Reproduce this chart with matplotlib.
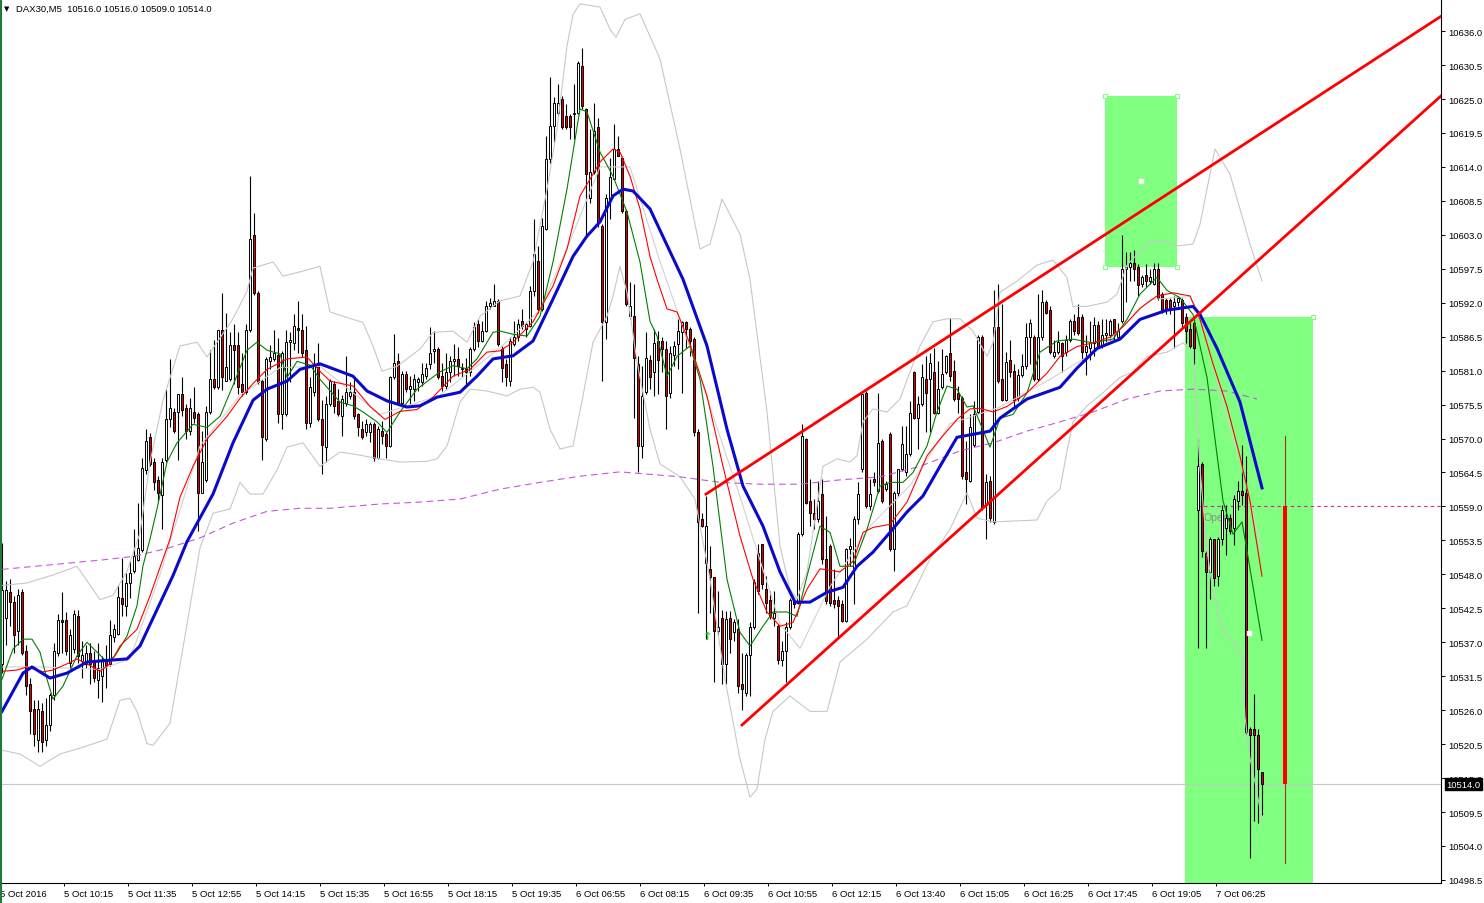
import numpy as np
import matplotlib
matplotlib.use("Agg")
import matplotlib.pyplot as plt
from matplotlib.patches import Rectangle
from matplotlib.lines import Line2D

plt.rcParams['font.family'] = ['Liberation Sans', 'DejaVu Sans']

symbol = 'DAX30,M5'

# 5 minute candles, 5 Oct 2016 09:00 -> 7 Oct 2016
opens = [
    10533.4, 10540.9, 10545.1, 10543.5, 10538.8, 10545.1, 10535.6, 10530.3, 10526.2, 10521.1,
    10525.8, 10521.1, 10523.6, 10528.4, 10535.3, 10540.6, 10540.6, 10533.7, 10535.9, 10541.3,
    10534.0, 10533.4, 10535.3, 10534.0, 10530.9, 10531.5, 10534.3, 10533.4, 10537.8, 10538.4,
    10544.1, 10542.8, 10546.6, 10548.5, 10550.4, 10552.0, 10564.9, 10570.3, 10566.2, 10563.3,
    10560.8, 10566.5, 10573.1, 10574.3, 10574.3, 10577.2, 10575.0, 10571.2, 10574.3, 10574.0,
    10561.1, 10563.3, 10574.3, 10579.7, 10578.4, 10587.6, 10579.4, 10579.7, 10585.1, 10585.1,
    10578.8, 10577.5, 10587.6, 10603.0, 10593.6, 10579.4, 10569.9, 10582.5, 10582.9, 10583.5,
    10574.0, 10574.0, 10585.7, 10585.4, 10587.9, 10587.6, 10584.4, 10572.5, 10577.5, 10581.9,
    10573.1, 10568.7, 10575.6,
    10578.8, 10576.1, 10573.7, 10575.8, 10576.9, 10577.5, 10573.9, 10571.5, 10571.0, 10571.0,
    10572.3, 10566.9, 10571.3, 10570.7, 10568.8, 10579.9, 10582.6, 10575.8, 10580.4, 10578.0,
    10578.0, 10579.1, 10579.1, 10580.2, 10582.1, 10584.2, 10584.5, 10580.2, 10578.5, 10580.7,
    10582.6, 10582.9, 10581.2, 10581.2, 10580.7, 10584.5, 10588.5, 10585.8, 10587.5, 10591.5,
    10591.5, 10592.3, 10584.5, 10582.1, 10579.3, 10585.3, 10586.4, 10589.1, 10587.7, 10588.3,
    10593.9, 10598.8, 10591.0, 10603.9, 10615.3, 10620.7, 10622.8, 10625.0, 10622.3, 10622.3,
    10622.6, 10622.8, 10630.4, 10623.4, 10609.0, 10613.1, 10620.4, 10604.5, 10588.8, 10608.8,
    10612.0, 10616.9, 10615.5, 10606.9, 10589.9, 10589.9, 10582.1, 10568.8, 10577.5,
    10582.8, 10580.7, 10585.8, 10585.8, 10584.5, 10577.4, 10583.6, 10585.3, 10587.2, 10588.8,
    10587.7, 10586.1, 10571.0, 10556.9, 10549.9, 10548.8, 10547.5, 10538.8, 10541.0, 10533.4,
    10541.0, 10538.6, 10539.1, 10530.2, 10528.8, 10535.0, 10539.4, 10551.5, 10552.9, 10545.6,
    10543.9, 10541.0, 10539.6, 10534.2, 10535.6, 10539.4, 10543.7, 10543.4, 10554.5, 10569.9,
    10559.9, 10558.0, 10556.9, 10561.0, 10550.5, 10552.6, 10543.9, 10543.9, 10543.2, 10540.5,
    10552.1, 10549.0, 10556.9, 10565.0, 10577.4, 10559.1, 10563.4, 10561.5, 10569.6, 10561.8,
    10570.7, 10552.1, 10561.2, 10565.0, 10564.5, 10567.5, 10580.7, 10573.4, 10575.6, 10579.6,
    10579.6, 10580.7, 10574.2, 10578.3, 10580.7, 10583.9, 10581.0, 10577.4, 10576.6, 10564.5,
    10563.2, 10568.9, 10574.3, 10586.4, 10559.2, 10563.2, 10556.5, 10588.1, 10579.7, 10576.3,
    10582.7, 10581.0, 10576.6, 10580.3, 10581.7, 10586.4, 10586.4, 10579.7, 10586.4, 10592.1,
    10590.8, 10583.4, 10584.0, 10585.4, 10584.0, 10586.0, 10589.1, 10589.7, 10589.7, 10584.0,
    10584.7, 10585.4, 10588.4, 10585.0, 10586.7, 10586.7, 10589.4, 10586.4, 10589.1, 10597.5,
    10597.8, 10598.5, 10597.8, 10595.1, 10596.5, 10595.5, 10595.1, 10597.5, 10593.4, 10592.4,
    10592.4, 10591.4, 10592.1, 10592.4, 10589.7, 10587.7, 10588.7, 10558.5, 10565.9, 10551.4,
    10548.4, 10553.8, 10547.8, 10553.8, 10555.5, 10557.2, 10555.5, 10559.8, 10561.5, 10561.2,
    10522.9, 10522.9, 10521.9, 10516.0,
]
highs = [
    10553.0, 10546.9, 10547.3, 10544.5, 10545.7, 10545.7, 10536.5, 10531.2, 10527.7, 10527.7,
    10527.1, 10528.0, 10528.7, 10536.9, 10541.6, 10545.1, 10541.9, 10539.1, 10542.2, 10542.2,
    10537.2, 10536.5, 10536.9, 10535.6, 10536.9, 10534.7, 10536.5, 10540.6, 10540.0, 10546.3,
    10550.7, 10548.2, 10550.1, 10555.4, 10559.5, 10566.8, 10571.5, 10570.9, 10566.8, 10563.9,
    10566.8, 10578.1, 10582.9, 10575.0, 10577.2, 10580.0, 10575.6, 10576.6, 10578.4, 10574.3,
    10571.2, 10575.3, 10584.4, 10586.0, 10587.6, 10593.6, 10590.4, 10587.3, 10588.5, 10587.3,
    10583.8, 10588.5, 10612.5, 10606.5, 10593.9, 10579.7, 10583.2, 10585.1, 10587.6, 10586.3,
    10584.1, 10587.6, 10587.3, 10590.1, 10592.3, 10590.1, 10588.2, 10580.0, 10583.8, 10585.4,
    10576.2, 10576.9, 10579.7,
    10579.3, 10578.0, 10577.0, 10583.4, 10579.1, 10579.6, 10574.2, 10572.9, 10573.1, 10572.6,
    10572.6, 10572.1, 10572.9, 10571.0, 10580.2, 10586.9, 10583.9, 10581.0, 10581.0, 10580.2,
    10580.4, 10579.9, 10582.3, 10582.3, 10588.0, 10587.5, 10584.8, 10582.3, 10583.9, 10583.4,
    10585.3, 10584.8, 10582.3, 10583.1, 10584.8, 10588.8, 10589.3, 10589.1, 10592.3, 10592.8,
    10595.0, 10592.6, 10585.0, 10582.9, 10586.4, 10589.1, 10589.3, 10591.0, 10588.8, 10594.7,
    10605.5, 10601.2, 10605.8, 10619.0, 10628.5, 10625.3, 10627.4, 10625.5, 10624.2, 10622.6,
    10627.4, 10631.2, 10633.3, 10623.6, 10620.1, 10624.4, 10622.0, 10604.7, 10609.6, 10615.5,
    10620.9, 10619.0, 10615.8, 10607.2, 10595.3, 10595.0, 10583.4, 10581.8, 10587.2,
    10583.6, 10587.7, 10587.4, 10586.4, 10585.8, 10585.0, 10585.8, 10589.3, 10589.1, 10589.1,
    10588.0, 10586.4, 10571.5, 10558.0, 10560.7, 10552.6, 10547.5, 10545.3, 10542.3, 10542.1,
    10542.1, 10540.7, 10540.7, 10535.3, 10535.3, 10540.2, 10547.2, 10552.9, 10552.9, 10547.7,
    10545.3, 10545.3, 10539.9, 10537.2, 10540.2, 10544.2, 10544.2, 10554.8, 10572.3, 10570.1,
    10563.4, 10560.2, 10563.1, 10563.4, 10557.5, 10552.9, 10548.8, 10544.5, 10543.9, 10552.3,
    10553.9, 10557.5, 10562.9, 10577.4, 10577.7, 10563.4, 10564.5, 10577.4, 10569.9, 10563.1,
    10571.0, 10561.5, 10565.0, 10572.0, 10572.0, 10576.1, 10581.0, 10576.9, 10582.0, 10583.4,
    10583.9, 10584.7, 10582.6, 10584.5, 10583.6, 10589.6, 10582.8, 10578.5, 10576.9, 10569.6,
    10574.0, 10576.0, 10586.7, 10586.7, 10564.2, 10563.9, 10594.1, 10595.1, 10591.8, 10584.0,
    10586.0, 10582.0, 10581.3, 10583.7, 10588.7, 10589.4, 10586.7, 10593.4, 10594.1, 10592.4,
    10591.4, 10586.0, 10587.4, 10585.7, 10586.7, 10589.4, 10590.1, 10591.8, 10590.1, 10586.7,
    10589.1, 10589.7, 10589.1, 10589.4, 10589.4, 10589.4, 10589.4, 10588.7, 10602.9, 10600.2,
    10600.2, 10600.5, 10598.2, 10596.5, 10598.2, 10597.5, 10598.5, 10598.5, 10593.8, 10592.8,
    10592.8, 10593.1, 10593.1, 10592.8, 10590.4, 10588.7, 10589.4, 10569.9, 10566.2, 10551.8,
    10554.1, 10553.8, 10554.1, 10559.2, 10559.2, 10557.8, 10560.9, 10563.2, 10568.9, 10567.2,
    10523.2, 10528.6, 10522.9, 10516.0,
]
lows = [
    10532.0, 10536.5, 10539.7, 10535.3, 10536.5, 10535.0, 10528.4, 10522.1, 10520.2, 10519.2,
    10519.2, 10520.2, 10522.7, 10527.7, 10534.7, 10535.3, 10535.0, 10532.8, 10535.3, 10533.7,
    10531.2, 10532.8, 10530.3, 10530.6, 10528.0, 10527.4, 10529.6, 10533.1, 10537.0, 10538.1,
    10541.3, 10541.3, 10544.1, 10548.2, 10550.1, 10551.7, 10564.3, 10565.5, 10561.7, 10559.9,
    10555.4, 10566.2, 10571.8, 10570.9, 10566.5, 10573.7, 10569.9, 10570.6, 10572.5, 10555.1,
    10561.1, 10563.0, 10574.0, 10578.1, 10578.1, 10577.8, 10579.4, 10579.4, 10578.8, 10577.2,
    10576.9, 10577.2, 10587.3, 10593.3, 10578.8, 10566.5, 10569.6, 10581.3, 10582.5, 10572.5,
    10571.5, 10573.7, 10579.1, 10584.4, 10583.8, 10583.2, 10571.5, 10571.8, 10576.9, 10572.8,
    10564.3, 10566.2, 10575.3,
    10574.2, 10573.7, 10570.4, 10575.3, 10576.4, 10573.1, 10570.4, 10569.9, 10570.4, 10569.4,
    10566.4, 10566.7, 10569.1, 10566.9, 10568.6, 10579.6, 10575.6, 10575.3, 10577.5, 10575.6,
    10576.1, 10577.7, 10578.5, 10579.6, 10581.2, 10582.3, 10579.6, 10577.7, 10578.0, 10579.1,
    10580.2, 10580.2, 10579.9, 10578.5, 10580.2, 10584.2, 10584.8, 10585.6, 10587.2, 10591.0,
    10591.5, 10585.0, 10579.1, 10578.5, 10578.5, 10585.0, 10585.8, 10587.7, 10586.4, 10588.0,
    10593.1, 10590.4, 10590.7, 10603.7, 10614.7, 10618.0, 10622.3, 10620.1, 10620.1, 10618.5,
    10618.5, 10622.6, 10623.4, 10602.8, 10608.2, 10612.8, 10604.2, 10579.3, 10586.1, 10605.5,
    10612.0, 10615.8, 10606.6, 10591.5, 10589.3, 10573.4, 10564.5, 10566.9, 10577.2,
    10578.0, 10576.9, 10577.2, 10580.7, 10571.5, 10576.6, 10581.8, 10581.2, 10577.4, 10584.7,
    10583.4, 10570.4, 10541.8, 10555.6, 10537.5, 10541.8, 10530.5, 10538.0, 10530.2, 10530.2,
    10535.3, 10537.2, 10528.8, 10526.1, 10528.3, 10528.3, 10539.1, 10544.8, 10545.6, 10541.8,
    10540.7, 10539.6, 10533.4, 10533.2, 10530.5, 10539.1, 10542.6, 10543.2, 10554.2, 10559.4,
    10555.8, 10555.3, 10556.4, 10549.6, 10543.2, 10542.9, 10542.6, 10537.7, 10540.2, 10540.2,
    10549.4, 10543.2, 10556.1, 10564.5, 10558.8, 10558.5, 10562.3, 10561.2, 10559.6, 10561.5,
    10551.8, 10548.6, 10560.7, 10564.8, 10563.9, 10567.2, 10573.1, 10568.3, 10575.3, 10571.0,
    10571.0, 10573.9, 10573.9, 10578.0, 10580.4, 10579.3, 10576.1, 10574.2, 10563.4, 10559.4,
    10562.9, 10568.6, 10574.0, 10558.5, 10553.8, 10556.5, 10556.1, 10579.0, 10576.0, 10576.0,
    10580.0, 10575.3, 10576.0, 10580.0, 10581.3, 10582.0, 10579.3, 10579.3, 10586.0, 10590.1,
    10583.7, 10583.0, 10583.7, 10580.7, 10583.4, 10585.7, 10586.7, 10586.7, 10582.7, 10580.3,
    10582.7, 10583.4, 10584.7, 10584.7, 10585.4, 10586.0, 10586.0, 10586.0, 10588.7, 10592.1,
    10595.5, 10595.5, 10593.1, 10594.5, 10594.5, 10595.1, 10594.8, 10592.4, 10590.4, 10590.1,
    10590.1, 10584.7, 10591.4, 10588.1, 10585.4, 10584.7, 10582.0, 10536.0, 10550.8, 10536.0,
    10544.0, 10546.1, 10546.1, 10552.8, 10551.1, 10554.5, 10552.8, 10558.5, 10559.2, 10522.2,
    10502.0, 10508.1, 10507.8, 10509.0,
]
closes = [
    10545.4, 10545.4, 10543.5, 10538.1, 10544.7, 10535.3, 10529.9, 10525.8, 10522.1, 10526.2,
    10520.8, 10523.6, 10528.4, 10535.6, 10540.6, 10540.2, 10535.6, 10538.1, 10541.6, 10534.7,
    10535.0, 10535.3, 10533.4, 10531.2, 10532.8, 10534.0, 10533.1, 10538.1, 10539.1, 10544.4,
    10543.2, 10546.6, 10548.2, 10551.0, 10552.3, 10565.2, 10569.6, 10565.8, 10563.0, 10561.1,
    10566.2, 10573.1, 10575.0, 10571.2, 10577.2, 10574.7, 10571.2, 10575.0, 10573.4, 10561.1,
    10566.2, 10574.3, 10579.7, 10578.4, 10587.6, 10580.0, 10581.6, 10585.1, 10584.4, 10578.4,
    10577.5, 10587.6, 10602.4, 10593.6, 10579.1, 10570.3, 10582.9, 10583.2, 10583.8, 10574.0,
    10583.8, 10585.7, 10586.0, 10588.2, 10587.6, 10583.8, 10572.5, 10578.4, 10581.9, 10573.1,
    10569.0, 10575.6, 10579.4,
    10575.3, 10573.9, 10576.4, 10577.5, 10577.5, 10573.7, 10571.8, 10570.2, 10572.3, 10572.3,
    10566.9, 10571.5, 10570.4, 10568.8, 10579.9, 10582.3, 10575.8, 10580.4, 10578.0, 10578.5,
    10579.6, 10579.6, 10580.4, 10581.5, 10583.9, 10584.5, 10579.9, 10578.5, 10580.7, 10582.6,
    10582.9, 10581.8, 10581.5, 10580.7, 10584.5, 10588.0, 10585.8, 10587.5, 10591.5, 10592.0,
    10592.3, 10585.3, 10581.5, 10579.9, 10585.8, 10586.4, 10588.5, 10588.3, 10588.5, 10593.9,
    10599.9, 10591.0, 10604.5, 10615.3, 10620.7, 10624.4, 10624.4, 10620.4, 10620.4, 10620.4,
    10622.8, 10630.9, 10623.9, 10612.8, 10613.1, 10619.8, 10605.0, 10588.8, 10609.0, 10612.3,
    10616.9, 10615.8, 10606.9, 10591.8, 10591.5, 10583.1, 10568.8, 10576.9, 10583.1,
    10579.9, 10585.5, 10582.8, 10584.5, 10576.9, 10583.9, 10585.0, 10587.4, 10588.8, 10587.7,
    10585.8, 10571.0, 10556.4, 10555.8, 10555.8, 10547.5, 10538.8, 10539.4, 10533.4, 10540.7,
    10537.5, 10540.2, 10529.9, 10529.4, 10535.0, 10539.4, 10546.7, 10545.3, 10546.4, 10543.4,
    10541.3, 10541.8, 10534.2, 10535.6, 10539.4, 10543.9, 10543.2, 10554.5, 10570.4, 10559.6,
    10558.0, 10556.9, 10559.9, 10550.5, 10543.7, 10543.4, 10543.2, 10542.9, 10540.5, 10552.1,
    10552.6, 10556.9, 10561.0, 10577.2, 10559.1, 10561.0, 10562.9, 10569.3, 10559.9, 10562.6,
    10552.1, 10561.2, 10565.0, 10569.1, 10567.5, 10574.2, 10573.4, 10575.6, 10579.9, 10577.4,
    10582.3, 10574.2, 10578.0, 10580.4, 10583.4, 10580.1, 10576.4, 10576.4, 10563.9, 10563.4,
    10571.9, 10574.0, 10586.4, 10558.8, 10562.9, 10557.2, 10588.1, 10579.3, 10576.3, 10582.4,
    10580.7, 10576.3, 10580.3, 10581.7, 10586.4, 10588.7, 10579.7, 10586.4, 10592.1, 10590.4,
    10584.0, 10584.0, 10585.7, 10583.4, 10586.0, 10589.1, 10587.4, 10587.1, 10584.0, 10585.0,
    10585.4, 10588.4, 10585.0, 10586.7, 10587.1, 10589.1, 10586.7, 10587.4, 10597.5, 10597.8,
    10598.5, 10597.5, 10594.8, 10596.1, 10595.5, 10596.1, 10597.5, 10592.8, 10590.8, 10590.8,
    10591.1, 10592.1, 10592.8, 10588.7, 10587.4, 10585.0, 10584.7, 10565.5, 10551.8, 10548.4,
    10553.8, 10547.4, 10553.8, 10558.5, 10557.2, 10555.1, 10560.2, 10561.5, 10560.9, 10522.5,
    10521.9, 10521.9, 10516.5, 10514.0,
]

time_labels = ['5 Oct 2016', '5 Oct 10:15', '5 Oct 11:35', '5 Oct 12:55', '5 Oct 14:15',
               '5 Oct 15:35', '5 Oct 16:55', '5 Oct 18:15', '5 Oct 19:35', '6 Oct 06:55',
               '6 Oct 08:15', '6 Oct 09:35', '6 Oct 10:55', '6 Oct 12:15', '6 Oct 13:40',
               '6 Oct 15:05', '6 Oct 16:25', '6 Oct 17:45', '6 Oct 19:05', '7 Oct 06:25']
bars_per_label = 16

price_ticks = [10498.5, 10504.0, 10509.5, 10515.0, 10520.5, 10526.0, 10531.5, 10537.0,
               10542.5, 10548.0, 10553.5, 10559.0, 10564.5, 10570.0, 10575.5, 10581.0,
               10586.5, 10592.0, 10597.5, 10603.0, 10608.5, 10614.0, 10619.5, 10625.0,
               10630.5, 10636.0]

# indicator lines as (bar, price)
ma_green = [(0, 10531.0), (2.75, 10535.9), (5.25, 10537.5), (7.5, 10537.5), (9.5, 10535.4), (11.25, 10531.0),
            (12.75, 10527.8), (15.25, 10529.9), (18.75, 10534.8), (21.25, 10537.0), (23.75, 10535.4),
            (26.25, 10533.8), (28.25, 10534.8), (31.25, 10538.0), (33.75, 10542.9), (35.25, 10549.4),
            (37, 10553.7), (38.75, 10558.6), (41.25, 10566.2), (43.75, 10569.3), (47.75, 10572.3),
            (51.25, 10571.8), (54.5, 10573.6), (57.75, 10578.6), (61.25, 10584.3), (63.75, 10585.6),
            (66.25, 10584.3), (69.5, 10583.7), (71.25, 10579.9), (73.75, 10582.5), (77, 10581.9),
            (79.5, 10579.6), (84.5, 10575.9), (87.75, 10575.3), (90.25, 10574.3), (93.75, 10572.7),
            (96.25, 10571.0), (99.5, 10574.3), (103.75, 10578.0), (107, 10579.6), (109.5, 10580.8),
            (112.75, 10581.8), (116.25, 10581.3), (118.75, 10582.9), (122.75, 10587.2), (124.5, 10587.4),
            (127.75, 10586.9), (131.25, 10586.6), (134.5, 10589.8), (137.75, 10598.6), (141.25, 10610.4),
            (144.5, 10623.4), (146.25, 10622.9), (149.5, 10616.4), (152.75, 10612.5), (156.25, 10606.7),
            (159.5, 10598.6), (162, 10589.0), (163.75, 10586.6), (166.25, 10580.1), (168.75, 10583.3),
            (172, 10585.0), (174.5, 10579.6), (177.75, 10565.5), (181.25, 10547.2), (184.5, 10538.6),
            (187, 10536.4), (190.25, 10539.6), (192.75, 10541.9), (196.25, 10541.9), (198.75, 10541.2),
            (201.25, 10547.7), (204.5, 10555.8), (207, 10554.8), (209.5, 10549.3), (212.75, 10549.3),
            (216.25, 10555.3), (219.5, 10562.3), (222, 10562.9), (225.25, 10562.9), (227.75, 10564.5),
            (231.25, 10568.8), (233.75, 10574.3), (236.25, 10578.5), (238.75, 10578.0), (241.25, 10575.1),
            (242.75, 10575.3), (247, 10568.6), (249.5, 10573.3), (252.75, 10573.9), (256.25, 10577.4),
            (259.5, 10584.0), (263.75, 10585.8), (267.75, 10586.1), (272.75, 10585.5), (277.75, 10586.1),
            (281.25, 10589.3), (284.5, 10593.4), (288.75, 10596.1), (291.25, 10594.0), (294.5, 10592.8),
            (297.75, 10590.1), (301.25, 10579.9), (305.25, 10559.9), (307.75, 10554.5), (310, 10556.5),
            (311.25, 10551.8), (315, 10537.3)]
ma_red = [(0.25, 10532.3), (3.75, 10532.5), (6.25, 10533.0), (10.25, 10532.2), (12.75, 10532.5),
          (16.25, 10533.5), (18.75, 10534.3), (21.25, 10533.5), (24.5, 10532.3), (27, 10533.5),
          (29.5, 10536.4), (33.75, 10539.1), (37, 10544.5), (40.25, 10550.5), (42, 10553.7),
          (44.5, 10560.5), (47.75, 10565.5), (51.25, 10569.9), (56.25, 10573.6), (59.5, 10576.5),
          (62.75, 10578.9), (66.25, 10581.2), (71.25, 10582.9), (76.25, 10583.2), (79.5, 10580.9),
          (82, 10579.3), (87.75, 10578.5), (92, 10575.2), (95.75, 10573.1), (99.5, 10574.4),
          (103.75, 10574.7), (107.75, 10576.7), (112.75, 10580.1), (117, 10581.2), (121.25, 10584.0),
          (124.5, 10584.2), (127.75, 10585.6), (132.75, 10588.9), (137.75, 10594.7), (141.25, 10600.7),
          (144.5, 10609.3), (147, 10612.0), (149.5, 10614.8), (152.75, 10616.9), (154.5, 10616.4),
          (157, 10612.5), (159.5, 10607.2), (162, 10599.5), (163.75, 10595.8), (166.25, 10591.0),
          (168.75, 10590.5), (172, 10585.3), (176.25, 10576.9), (180.25, 10565.5), (184.5, 10554.2),
          (187.75, 10547.2), (191.25, 10541.9), (194.5, 10539.6), (197.75, 10540.2), (201.25, 10545.6),
          (204.5, 10548.9), (209.5, 10548.4), (212.75, 10550.1), (215.25, 10554.8), (217.75, 10555.6),
          (222, 10556.1), (226.25, 10559.7), (231.25, 10567.2), (234.5, 10569.9), (238.75, 10573.1),
          (242, 10574.8), (244.5, 10574.9), (247.75, 10574.3), (251.25, 10575.2), (256.25, 10577.4),
          (261.25, 10580.6), (264.5, 10583.3), (268.75, 10584.9), (272.75, 10585.5), (277, 10586.4),
          (280.25, 10588.1), (284.5, 10591.1), (288.75, 10593.1), (292.75, 10593.6), (297, 10593.1),
          (299.5, 10589.3), (302.75, 10582.1), (306.25, 10575.2), (309.5, 10567.1), (312, 10559.9),
          (315, 10547.7)]
ma_blue = [(0, 10525.8), (5.25, 10532.0), (7.5, 10533.0), (12, 10531.2), (16.25, 10532.0), (21.25, 10533.8),
           (31.25, 10534.3), (34.5, 10536.4), (37.75, 10540.9), (42.75, 10547.8), (46.25, 10553.3),
           (52.75, 10561.0), (57.75, 10569.3), (62.75, 10576.2), (66.25, 10578.0), (71.25, 10579.3),
           (74.5, 10581.2), (79.5, 10582.1), (87.75, 10580.1), (91.25, 10577.7), (96.25, 10576.1),
           (101.25, 10575.1), (104.5, 10575.3), (108.75, 10576.7), (114.5, 10577.5), (118.75, 10580.1),
           (122.75, 10582.9), (127.75, 10583.4), (132.75, 10585.8), (137.75, 10592.6), (142.75, 10599.5),
           (146.25, 10602.8), (149.5, 10605.1), (152.75, 10609.3), (155.25, 10610.4), (157.75, 10610.1),
           (162, 10607.2), (170.25, 10595.8), (176.25, 10585.0), (181.25, 10571.5), (185.25, 10562.3),
           (190.25, 10555.8), (194.5, 10548.4), (198.25, 10543.5), (202, 10543.5), (206.25, 10545.1),
           (210.25, 10545.9), (213.75, 10549.3), (217.75, 10551.6), (222, 10554.8), (226.25, 10558.1),
           (230.25, 10560.7), (234.5, 10565.5), (238.75, 10570.2), (247, 10571.2), (249.5, 10573.3),
           (256.25, 10576.4), (264.5, 10578.3), (268.75, 10581.4), (273.75, 10584.6), (279.5, 10586.1),
           (284.5, 10589.3), (291.25, 10590.8), (297.75, 10591.4), (299.5, 10590.1), (303.75, 10584.6),
           (309.5, 10575.9), (315, 10562.0)]
bb_upper = [(0, 10546.2), (6.25, 10546.6), (12.75, 10547.9), (18.75, 10549.3), (24.5, 10543.9), (27.75, 10544.6),
            (31.25, 10548.5), (34.5, 10554.7), (37, 10566.2), (40.25, 10576.2), (44.5, 10585.0),
            (48.75, 10585.6), (51.25, 10583.2), (57.75, 10589.4), (61.25, 10593.9), (62.75, 10597.6),
            (67.75, 10598.6), (70.25, 10596.3), (74.5, 10597.0), (79.5, 10597.9), (82, 10590.5),
            (87.75, 10589.3), (90.25, 10588.8), (92.75, 10585.0), (95, 10580.9), (98.75, 10581.7),
            (104.5, 10584.5), (107.75, 10587.2), (112.75, 10587.4), (116.25, 10585.6), (119.5, 10589.8),
            (124.5, 10592.3), (129.5, 10593.1), (132.75, 10598.6), (136.25, 10610.4), (138.75, 10620.1),
            (141.25, 10633.6), (142.75, 10638.7), (144.5, 10640.4), (149.5, 10639.9), (152, 10636.3),
            (153.5, 10635.0), (155.75, 10637.9), (159.5, 10638.8), (164.5, 10631.5), (169.5, 10616.9),
            (174.5, 10600.7), (177, 10601.5), (180, 10608.8), (184.5, 10603.1), (187, 10595.8),
            (191.25, 10574.3), (194.5, 10552.6), (197, 10545.6), (198.75, 10544.0), (201.25, 10548.4),
            (205.25, 10565.5), (208.75, 10566.7), (212, 10566.2), (213.75, 10567.2), (215.25, 10572.7),
            (217.75, 10574.8), (221.25, 10574.3), (224.5, 10576.4), (227, 10580.8), (229.5, 10585.0),
            (232.75, 10588.9), (236.25, 10589.4), (239.5, 10589.4), (242.75, 10587.4), (246.25, 10583.3),
            (247.75, 10585.5), (249.5, 10593.7), (253.75, 10595.5), (258.75, 10598.1), (262.75, 10598.9),
            (266.25, 10596.1), (267.75, 10591.4), (271.25, 10591.4), (276.25, 10592.1), (278.75, 10593.4),
            (281.25, 10598.1), (286.25, 10601.5), (289.5, 10602.1), (293.75, 10601.2), (297.75, 10601.5),
            (299.5, 10604.7), (303.25, 10616.9), (307, 10612.8), (309.5, 10607.2), (312, 10601.5),
            (315, 10595.5)]
bb_middle = [(0, 10533.0), (9.5, 10533.0), (24.5, 10532.6), (32, 10534.3), (39.5, 10548.0), (49.5, 10568.8),
             (59.5, 10577.0), (69.5, 10581.5), (79.5, 10581.7), (94.5, 10573.9), (109.5, 10577.0),
             (124.5, 10584.7), (134.5, 10590.8), (142, 10602.0), (149.5, 10614.0), (157, 10614.0),
             (164.5, 10598.7), (174.5, 10580.0), (184.5, 10560.6), (194.5, 10540.0), (199.5, 10536.0),
             (207, 10546.0), (217, 10555.8), (227, 10562.4), (237, 10572.4), (249.5, 10575.1),
             (262, 10579.6), (274.5, 10584.5), (287, 10592.5), (297, 10593.0), (299.5, 10590.1),
             (306.25, 10573.3), (309.5, 10566.5), (312.5, 10558.6), (315, 10551.8)]
bb_lower = [(0, 10519.5), (4.5, 10518.9), (9.5, 10516.9), (14.5, 10518.9), (20.25, 10520.0), (26.25, 10521.3),
            (29.5, 10527.6), (32, 10527.9), (33.75, 10525.8), (36.25, 10520.6), (37.75, 10520.3),
            (42, 10523.9), (44.5, 10533.3), (49.5, 10552.3), (52.75, 10557.9), (57, 10558.6),
            (59.5, 10562.9), (62, 10561.0), (65.25, 10561.0), (68.75, 10564.9), (71.25, 10568.6),
            (75.25, 10569.3), (79.5, 10565.5), (84.5, 10567.8), (87.75, 10567.5), (94.5, 10566.7),
            (99.5, 10566.2), (106.25, 10566.3), (108.75, 10566.7), (111.25, 10568.8), (114.5, 10575.9),
            (117, 10578.0), (121.25, 10577.7), (126.25, 10576.9), (129.5, 10578.0), (132.75, 10578.3),
            (134.5, 10577.5), (137, 10571.5), (139.5, 10568.3), (142.75, 10568.8), (145.25, 10576.9),
            (147.75, 10585.6), (151.25, 10589.8), (152.75, 10593.1), (154.5, 10597.9), (156.25, 10593.7),
            (158.75, 10582.4), (162, 10571.5), (164.5, 10565.9), (169.5, 10563.8), (173.25, 10560.2),
            (177, 10547.2), (180.75, 10531.0), (184.5, 10518.1), (187, 10511.9), (188.75, 10513.2),
            (190.75, 10521.3), (192.75, 10525.8), (197, 10528.3), (202, 10525.8), (206.25, 10525.8),
            (209.5, 10533.8), (216.25, 10537.5), (222.75, 10541.9), (226.25, 10542.9), (232, 10550.5),
            (237, 10555.3), (241.25, 10561.2), (243.75, 10557.1), (247.75, 10556.5), (258.75, 10556.8),
            (261.25, 10559.9), (264.5, 10561.8), (266.25, 10568.0), (267.75, 10572.7), (271.25, 10575.3),
            (275.25, 10577.4), (279.5, 10579.9), (282.75, 10580.8), (286.25, 10583.3), (291.25, 10584.0),
            (295.25, 10585.5), (297.75, 10584.0), (299.5, 10565.2), (301.25, 10551.8), (302.75, 10545.1),
            (305.25, 10539.0), (307.75, 10537.0), (310, 10534.9), (310.75, 10524.9), (312, 10518.2),
            (313.75, 10512.7), (315, 10508.0)]
ma_long = [(0, 10548.8), (24.5, 10550.3), (32.75, 10550.9), (41.25, 10552.2), (49.5, 10553.9), (57.75, 10556.3),
           (66.25, 10558.2), (74.5, 10558.7), (82, 10558.7), (94.5, 10559.4), (104.5, 10559.7),
           (114.5, 10560.2), (124.5, 10561.8), (134.5, 10562.9), (144.5, 10563.9), (154.5, 10564.6),
           (162, 10564.2), (169.5, 10563.8), (179.5, 10562.9), (189.5, 10562.6), (199.5, 10562.6),
           (209.5, 10563.3), (219.5, 10563.8), (229.5, 10565.5), (239.5, 10568.0), (247.75, 10569.3),
           (256.25, 10571.2), (264.5, 10572.7), (272.75, 10574.3), (281.25, 10576.4), (289.5, 10577.7),
           (297.75, 10578.0), (306.25, 10577.7), (313.75, 10576.4)]

# objects drawn on the chart
channel_top = [(176, 10561.0), (359.75, 10638.4)]
channel_bottom = [(185, 10523.6), (359.75, 10625.5)]
zone_top = (275.75, 293.75, 10597.8, 10625.5)      # bar from, bar to, price low, price high
zone_sell = (295.75, 327.75, 10487.3, 10589.7)
open_price = 10559.0
open_from = 298.75
day_candle = (320.75, 10559.0, 10570.4, 10501.2, 10514.0)  # bar, open, high, low, close
arrow_at = (176.5, 10538.0)

fig = plt.figure(figsize=(14.84, 9.04), dpi=100)
ax = fig.add_axes([0, 20 / 904, 1441 / 1484, 884 / 904])
ax.set_xlim(-0.5, 359.75)
ax.set_ylim(10498.0, 10641.2)

# zones in the background
for x0, x1, p0, p1 in (zone_top, zone_sell):
    ax.add_patch(Rectangle((x0, p0), x1 - x0, p1 - p0, facecolor='#80ff80', edgecolor='none', zorder=0.5))

# open price line
ax.plot([open_from, 359.75], [open_price, open_price], color='#e0208a', lw=0.8,
        dashes=(3, 3), zorder=1.5)
ax.text(open_from + 1.5, 10557.3, 'Open', color='#8c8c8c', fontsize=7.5, va='center', zorder=1.5)

# last price line
ax.axhline(closes[-1], color='#c8c8c8', lw=0.8, zorder=1.2)

# candles
o = np.array(opens); h = np.array(highs); l = np.array(lows); c = np.array(closes)
h = np.maximum(h, np.maximum(o, c))
l = np.minimum(l, np.minimum(o, c))
x = np.arange(len(c))
up = c >= o
ax.vlines(x, l, h, color='black', lw=0.8, zorder=2)
bottom = np.minimum(o, c)
height = np.maximum(np.abs(c - o), 0.08)
ax.bar(x[up], height[up], bottom=bottom[up], width=0.55, color='white',
       edgecolor='black', linewidth=0.7, zorder=3)
ax.bar(x[~up], height[~up], bottom=bottom[~up], width=0.55, color='#e00000',
       edgecolor='black', linewidth=0.7, zorder=3)

# indicators
def draw(points, **kw):
    px, py = zip(*points)
    ax.plot(px, py, **kw)

draw(bb_upper, color='#c8c8c8', lw=0.8, zorder=4)
draw(bb_lower, color='#c8c8c8', lw=0.8, zorder=4)
draw(bb_middle, color='#d2d2d2', lw=0.8, zorder=4)
draw(ma_long, color='#c855dd', lw=0.8, dashes=(6, 4), zorder=4)
draw(ma_green, color='#008000', lw=0.8, zorder=4.2)
draw(ma_red, color='#ff0000', lw=0.8, zorder=4.3)
draw(ma_blue, color='#0a0acc', lw=2.2, zorder=4.4)

# channel lines
draw(channel_top, color='#ff0000', lw=2.0, zorder=5)
draw(channel_bottom, color='#ff0000', lw=2.0, zorder=5)

# day candle on the right
bx, d_open, d_high, d_low, d_close = day_candle
ax.plot([bx, bx], [d_low, d_high], color='#b02828', lw=0.8, zorder=5)
ax.bar([bx], [d_open - d_close], bottom=[d_close], width=1.0, color='#ff0000', zorder=5.1)

# arrow object
ax.text(arrow_at[0], arrow_at[1], '\u2191', color='#22dd22', fontsize=8, fontweight='bold',
        ha='center', va='center', family=['DejaVu Sans'], zorder=6)

# selection handles of the zones
x0, x1, p0, p1 = zone_top
for hx, hy in [(x0, p0), (x1, p0), (x0, p1), (x1, p1)]:
    ax.plot(hx, hy, marker='s', ms=3.5, mfc='white', mec='#80ff80', mew=0.8, zorder=6)
ax.plot((x0 + x1) / 2, (p0 + p1) / 2, marker='s', ms=2.2, mfc='white', mec='white', zorder=6)
x0, x1, p0, p1 = zone_sell
ax.plot(x1, p1, marker='s', ms=3.5, mfc='white', mec='#80ff80', mew=0.8, zorder=6)
ax.plot((x0 + x1) / 2, (p0 + p1) / 2, marker='s', ms=2.2, mfc='white', mec='white', zorder=6)

# axes styling
for side in ('top', 'left'):
    ax.spines[side].set_visible(False)
for side in ('right', 'bottom'):
    ax.spines[side].set_linewidth(0.8)
    ax.spines[side].set_color('black')

ax.yaxis.tick_right()
ax.set_yticks(price_ticks)
ax.set_yticklabels([f'{t:.1f}' for t in price_ticks])
ax.tick_params(axis='y', direction='out', length=3, width=0.7, pad=2, labelsize=6.8)

ax.set_xticks([k * bars_per_label - 0.5 for k in range(len(time_labels))])
ax.set_xticklabels(time_labels, ha='left')
ax.tick_params(axis='x', direction='out', length=2.5, width=0.7, pad=1.5, labelsize=6.8)

ax.text(1.0035, closes[-1], f'{closes[-1]:.1f}', transform=ax.get_yaxis_transform(),
        color='white', fontsize=6.8, va='center', ha='left',
        bbox=dict(boxstyle='square,pad=0.15', fc='black', ec='black'), zorder=10, clip_on=False)

# header
fig.text(4 / 1484, 1 - 9 / 904, '\u25bc', fontsize=5, va='center', family=['DejaVu Sans'])
fig.text(16 / 1484, 1 - 9 / 904,
         f'{symbol}  {opens[-1]:.1f} {highs[-1]:.1f} {lows[-1]:.1f} {closes[-1]:.1f}',
         fontsize=6.8, va='center')

fig.add_artist(Line2D([0.0006, 0.0006], [0, 1], transform=fig.transFigure, color='#217a3b', lw=1.5))

fig.savefig('out.png', dpi=100)
